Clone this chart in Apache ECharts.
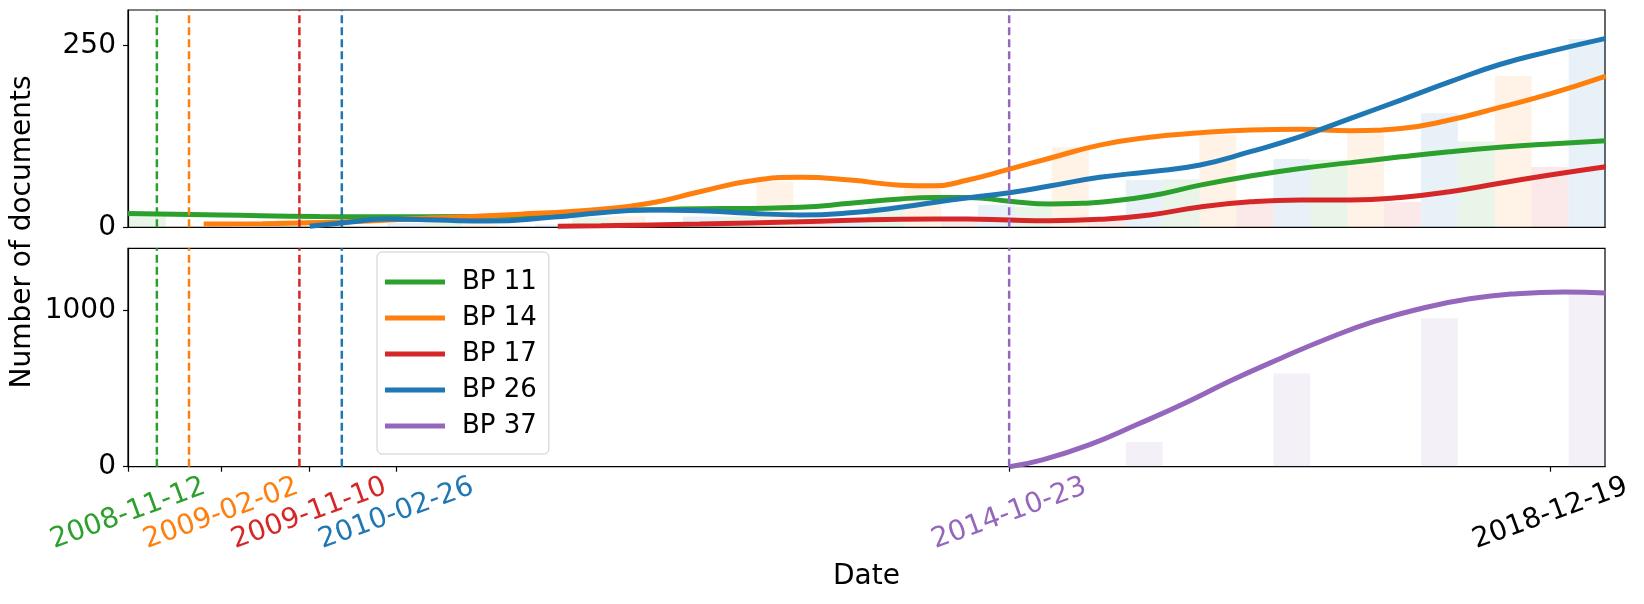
<!DOCTYPE html>
<html>
<head>
<meta charset="utf-8">
<title>Number of documents</title>
<script src="https://cdn.jsdelivr.net/npm/echarts@6.0.0/dist/echarts.min.js"></script>
<style>
  html, body { margin: 0; padding: 0; background: #fff; }
  #main { width: 1644px; height: 604px; }
</style>
</head>
<body>
<div id="main"></div>
<script>
// dates are kept as decimal years on the x axis
function toYear(s) {
    var p = s.split('-').map(Number);
    var start = Date.UTC(p[0], 0, 1), end = Date.UTC(p[0] + 1, 0, 1);
    return p[0] + (Date.UTC(p[0], p[1] - 1, p[2]) - start) / (end - start);
}

var seriesNames = ['BP 11', 'BP 14', 'BP 17', 'BP 26', 'BP 37'];

// smoothed document counts, [year, value]
var bp11Line = [[2008.66, 19], [2009.31, 17], [2010.00, 15], [2010.70, 14.6], [2011.40, 15.5], [2011.96, 22],
    [2012.30, 24], [2012.65, 25.5], [2013.00, 26], [2013.35, 27.5], [2013.70, 33], [2014.05, 39], [2014.28, 41],
    [2014.52, 41], [2014.81, 36], [2015.09, 32], [2015.32, 33], [2015.44, 34.5], [2015.79, 43], [2016.14, 58],
    [2016.49, 70.6], [2016.84, 81], [2017.19, 89], [2017.54, 97], [2017.88, 104], [2018.23, 110], [2018.58, 114.7],
    [2018.97, 119]];
var bp14Line = [[2009.19, 4.5], [2009.60, 5], [2010.00, 6.5], [2010.70, 12], [2011.40, 18], [2011.96, 25],
    [2012.30, 33], [2012.65, 49], [2013.00, 63.7], [2013.35, 68.8], [2013.70, 65], [2014.05, 58], [2014.28, 57],
    [2014.52, 65], [2014.81, 80], [2015.09, 95], [2015.44, 113], [2015.79, 124], [2016.14, 130], [2016.49, 134],
    [2016.84, 135], [2017.19, 133], [2017.54, 136], [2017.88, 147.7], [2018.23, 165], [2018.58, 183.5], [2018.97, 208]];
var bp17Line = [[2011.66, 1.5], [2011.96, 2], [2012.65, 4.5], [2013.35, 7.7], [2014.05, 11], [2014.52, 11.5],
    [2014.81, 10], [2015.09, 9], [2015.44, 11], [2015.79, 17], [2016.14, 28], [2016.49, 35], [2016.84, 37.6],
    [2017.19, 37.6], [2017.54, 41], [2017.88, 49], [2018.23, 60.6], [2018.58, 72], [2018.97, 83.4]];
var bp26Line = [[2009.93, 1.5], [2010.20, 7], [2010.47, 11.5], [2010.82, 10], [2011.17, 8.5], [2011.63, 14],
    [2011.96, 20], [2012.30, 23.8], [2012.65, 22.9], [2013.00, 19.3], [2013.35, 17], [2013.70, 20], [2014.05, 27.5],
    [2014.40, 37.6], [2014.81, 47.6], [2015.09, 56.8], [2015.44, 68.8], [2015.79, 76.5], [2016.14, 85.8],
    [2016.49, 104], [2016.84, 124.7], [2017.19, 150], [2017.54, 175], [2017.88, 200], [2018.23, 224], [2018.58, 242],
    [2018.97, 260]];
var bp37Line = [[2014.81, 0], [2015.04, 44], [2015.37, 141], [2015.70, 270], [2016.04, 410], [2016.36, 554],
    [2016.70, 694], [2017.03, 822], [2017.35, 930], [2017.69, 1016], [2018.02, 1076], [2018.35, 1109],
    [2018.68, 1120], [2018.97, 1113]];

// faint yearly bars: group start years and counts per series
var barGroups = [2008.54, 2009.57, 2010.60, 2011.63, 2012.66, 2013.69, 2014.72, 2015.75, 2016.78, 2017.81, 2018.84];
var bp11Bars = [16, 11, 10, 14, 15, 30, 28, 66, 93, 118, null];
var bp14Bars = [2, 3, 4, 15, 63, 54, 110, 127, 129, 208, null];
var bp17Bars = [null, 0, 0, 2, 5, 12, 14, 32, 35, 83, null];
var bp26Bars = [null, 0, 6, 4, 15, 9, 31, 65, 94, 157, 259];
var bp37Bars = [null, 0, 0, 0, 0, 0, 0, 158, 597, 952, 1120];

// first dates, shown as dashed lines
var markerDates = ['2008-11-12', '2009-02-02', '2009-11-10', '2010-02-26', '2014-10-23'];

// x tick positions and their labels
var tickYears = [2008.662, 2009.311, 2009.924, 2010.533, toYear('2014-10-23'), 2018.583];
var tickLabels = ['2008-11-12', '2009-02-02', '2009-11-10', '2010-02-26', '2014-10-23', '2018-12-19'];

var xStart = 2008.662;
var xEnd = toYear('2018-12-19');
var topMax = 299, bottomMax = 1400;

var FONT = 'DejaVu Sans';
var colors = ['#2ca02c', '#ff7f0e', '#d62728', '#1f77b4', '#9467bd'];
var markerColors = ['#2ca02c', '#ff7f0e', '#d62728', '#1f77b4', '#9467bd'];
var tickColors = ['#2ca02c', '#ff7f0e', '#d62728', '#1f77b4', '#9467bd', '#000000'];
var barFill = ['rgba(44,160,44,0.1)', 'rgba(255,127,14,0.1)', 'rgba(214,39,40,0.1)', 'rgba(31,119,180,0.1)', 'rgba(148,103,189,0.1)'];
var barOffsetSlot = [1, 2, 3, 0, 0];
var barSlot = 0.2573;

var gridLeft = 128, gridRight = 39;
var pxPerYear = (1644 - gridLeft - gridRight) / (xEnd - xStart);

function tickIndex(v) {
    for (var i = 0; i < tickYears.length; i++) {
        if (Math.abs(tickYears[i] - v) < 0.005) return i;
    }
    return -1;
}

var lines = [bp11Line, bp14Line, bp17Line, bp26Line, bp37Line];
var bars = [bp11Bars, bp14Bars, bp17Bars, bp26Bars, bp37Bars];

var series = [];
for (var s = 0; s < 5; s++) {
    var panel = s === 4 ? 1 : 0;
    var barData = [];
    for (var g = 0; g < barGroups.length; g++) {
        if (bars[s][g] !== null) barData.push([barGroups[g] + barOffsetSlot[s] * barSlot, bars[s][g]]);
    }
    series.push({
        name: seriesNames[s] + ' bars',
        type: 'bar',
        xAxisIndex: panel,
        yAxisIndex: panel,
        barWidth: barSlot * pxPerYear,
        barGap: '-100%',
        silent: true,
        z: 1,
        itemStyle: { color: barFill[s] },
        data: barData
    });
}
for (var s = 0; s < 5; s++) {
    var panel = s === 4 ? 1 : 0;
    series.push({
        name: seriesNames[s],
        type: 'line',
        xAxisIndex: panel,
        yAxisIndex: panel,
        smooth: true,
        showSymbol: false,
        color: colors[s],
        itemStyle: { color: colors[s] },
        lineStyle: { color: colors[s], width: 5 },
        z: 3,
        data: lines[s]
    });
}
// dashed date markers in both panels
for (var p = 0; p < 2; p++) {
    for (var m = 0; m < markerDates.length; m++) {
        var d = toYear(markerDates[m]);
        series.push({
            name: 'marker ' + p + '-' + m,
            type: 'line',
            xAxisIndex: p,
            yAxisIndex: p,
            showSymbol: false,
            silent: true,
            z: 5,
            lineStyle: { color: markerColors[m], width: 2.5, type: [8, 4] },
            data: [[d, 0], [d, p === 0 ? topMax : bottomMax]]
        });
    }
}

var myChart = echarts.init(document.getElementById('main'));
var option = {
    animation: false,
    backgroundColor: '#fff',
    textStyle: { fontFamily: FONT },
    grid: [
        { left: gridLeft, right: gridRight, top: 10, height: 217.3, show: true, borderColor: '#000', borderWidth: 1.2 },
        { left: gridLeft, right: gridRight, top: 248.3, height: 218.4, show: true, borderColor: '#000', borderWidth: 1.2 }
    ],
    xAxis: [{
        type: 'value', gridIndex: 0, min: xStart, max: xEnd,
        axisLine: { show: true, lineStyle: { color: '#000', width: 1.2 } },
        axisTick: { show: false },
        axisLabel: { show: false },
        splitLine: { show: false }
    }, {
        type: 'value', gridIndex: 1, min: xStart, max: xEnd,
        name: 'Date', nameLocation: 'middle', nameGap: 110,
        nameTextStyle: { fontSize: 28, color: '#000', fontFamily: FONT, verticalAlign: 'middle' },
        axisLine: { show: true, lineStyle: { color: '#000', width: 1.2 } },
        axisTick: { show: true, customValues: tickYears, length: 5, lineStyle: { color: '#000', width: 1.2 } },
        axisLabel: {
            customValues: tickYears,
            rotate: 20, align: 'center', verticalAlign: 'middle', margin: 47,
            fontSize: 28, fontFamily: FONT,
            formatter: function (v) { var i = tickIndex(v); return i < 0 ? '' : tickLabels[i]; },
            color: function (v) { var i = tickIndex(v); return i < 0 ? '#000' : tickColors[i]; }
        },
        splitLine: { show: false }
    }],
    yAxis: [{
        type: 'value', gridIndex: 0, min: 0, max: topMax,
        axisLine: { show: true, lineStyle: { color: '#000', width: 1.2 } },
        axisTick: { show: true, customValues: [0, 250], length: 5, lineStyle: { color: '#000', width: 1.2 } },
        axisLabel: { customValues: [0, 250], fontSize: 28, color: '#000', margin: 12, fontFamily: FONT,
            formatter: function (v) { return String(v); } },
        splitLine: { show: false }
    }, {
        type: 'value', gridIndex: 1, min: 0, max: bottomMax,
        axisLine: { show: true, lineStyle: { color: '#000', width: 1.2 } },
        axisTick: { show: true, customValues: [0, 1000], length: 5, lineStyle: { color: '#000', width: 1.2 } },
        axisLabel: { customValues: [0, 1000], fontSize: 28, color: '#000', margin: 12, fontFamily: FONT,
            formatter: function (v) { return String(v); } },
        splitLine: { show: false }
    }],
    legend: {
        data: seriesNames,
        orient: 'vertical',
        left: 377, top: 252,
        icon: 'rect',
        itemWidth: 60, itemHeight: 5, itemGap: 10,
        padding: [17, 12, 15, 8],
        backgroundColor: '#fff',
        borderColor: '#cccccc', borderWidth: 1, borderRadius: 5,
        textStyle: { fontSize: 26, color: '#000', fontFamily: FONT, padding: [0, 0, 0, 12] }
    },
    graphic: [{
        type: 'text',
        x: 22.5, y: 232,
        rotation: Math.PI / 2,
        style: { text: 'Number of documents', fontSize: 28, fontFamily: FONT, fill: '#000', align: 'center', verticalAlign: 'middle' }
    }],
    series: series
};
if (option && typeof option === 'object') {
    myChart.setOption(option, true);
}
</script>
</body>
</html>
